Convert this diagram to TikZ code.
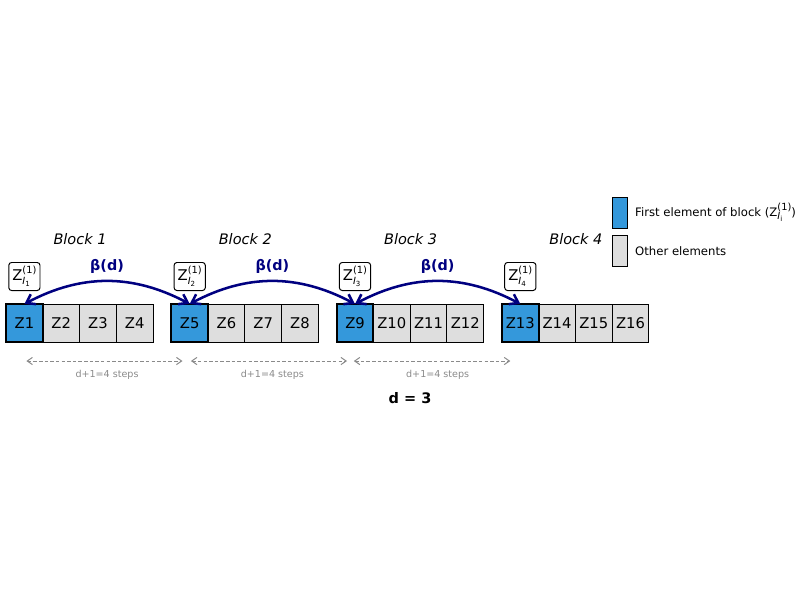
\documentclass[tikz,border=0pt]{standalone}
\usepackage{fontspec}
\setmainfont{DejaVu Sans}
\usepackage{xcolor}
\usepackage{tikz}
\usetikzlibrary{arrows.meta,positioning}

\definecolor{firstblue}{HTML}{3498DB}
\definecolor{othergray}{HTML}{DEDEDE}
\definecolor{arcnavy}{HTML}{000080}
\definecolor{stepgray}{HTML}{8A8A8A}

\newcommand{\zlab}[1]{Z\rlap{\raisebox{-0.55ex}{\scriptsize\textit{I}\raisebox{-0.35ex}{\tiny#1}}}\raisebox{0.85ex}{\scriptsize(1)}}

\tikzset{
  cell/.style={draw, line width=0.7pt, fill=othergray, outer sep=0pt, inner sep=0pt,
    minimum width=0.92cm, minimum height=0.95cm, font=\fontsize{10.5}{12}\selectfont},
  firstcell/.style={cell, fill=firstblue, line width=1.5pt},
  zbox/.style={draw, rounded corners=2pt, fill=white, line width=0.7pt, inner sep=1pt,
    minimum width=0.78cm, minimum height=0.7cm, font=\fontsize{10.5}{12}\selectfont},
  blocklabel/.style={font=\itshape\fontsize{10.3}{12}\selectfont},
  betaarc/.style={arcnavy, line width=1.8pt, {Straight Barb[length=2mm,width=2.8mm]}-{Straight Barb[length=2mm,width=2.8mm]}},
  betalabel/.style={text=arcnavy, font=\bfseries\fontsize{10.2}{12}\selectfont},
  steparrow/.style={stepgray, dash pattern=on 2.5pt off 1.5pt, line width=0.7pt, {Straight Barb[length=1.3mm,width=1.8mm]}-{Straight Barb[length=1.3mm,width=1.8mm]}},
  steplabel/.style={text=stepgray, font=\fontsize{6.8}{8}\selectfont},
  legbox/.style={draw, line width=0.7pt, minimum width=0.375cm, minimum height=0.775cm, inner sep=0pt},
  legtext/.style={inner sep=1pt, font=\fontsize{8.3}{10}\selectfont}
}

\begin{document}
\begin{tikzpicture}[x=0.025cm, y=0.025cm]
\useasboundingbox (0,0) rectangle (800,-600);

% the four blocks of Z
\foreach \b in {0,...,3}{
  \pgfmathtruncatemacro{\n}{4*\b+1}
  \pgfmathtruncatemacro{\m}{\b+1}
  \foreach \j in {1,2,3}{
    \pgfmathtruncatemacro{\k}{\n+\j}
    \node[cell] (Z\k) at ({24.4+165.3*\b+36.75*\j},-323) {Z\k};
  }
  \node[firstcell] (Z\n) at ({24.4+165.3*\b},-323) {Z\n};
  \node[zbox, above=0.325cm of Z\n] (I\m) {\zlab{\m}};
  \node[blocklabel] (B\m) at ({80+165.3*\b},-239) {Block \m};
}

% beta(d) arcs
\draw[betaarc] (Z1.north) to[bend left=28] node[midway, yshift=0.375cm, betalabel] {β(d)} (Z5.north);
\draw[betaarc] (Z5.north) to[bend left=28] node[midway, yshift=0.375cm, betalabel] {β(d)} (Z9.north);
\draw[betaarc] (Z9.north) to[bend left=28] node[midway, yshift=0.375cm, betalabel] {β(d)} (Z13.north);

% steps
\draw[steparrow, shorten <=0.05cm, shorten >=0.18cm] ([yshift=-0.475cm]Z1.south) -- ([yshift=-0.475cm]Z5.south)
  node[midway, yshift=-0.35cm, steplabel] {d+1=4 steps};
\draw[steparrow, shorten <=0.03cm, shorten >=0.2cm] ([yshift=-0.475cm]Z5.south) -- ([yshift=-0.475cm]Z9.south)
  node[midway, yshift=-0.35cm, steplabel] {d+1=4 steps};
\draw[steparrow, shorten <=-0.03cm, shorten >=0.25cm] ([yshift=-0.475cm]Z9.south) -- ([yshift=-0.475cm]Z13.south)
  node[midway, yshift=-0.35cm, steplabel] {d+1=4 steps};

\node[font=\bfseries\fontsize{10.3}{12}\selectfont] (dval) at (410,-398) {d = 3};

% legend
\node[legbox, fill=firstblue] (legfirst) at (619.5,-212.5) {};
\node[legtext, right=0.15cm of legfirst] (legfirsttxt) {First element of block (\zlab{i})};
\node[legbox, fill=othergray] (legother) at (619.5,-251) {};
\node[legtext, right=0.15cm of legother] (legothertxt) {Other elements};
\end{tikzpicture}
\end{document}
